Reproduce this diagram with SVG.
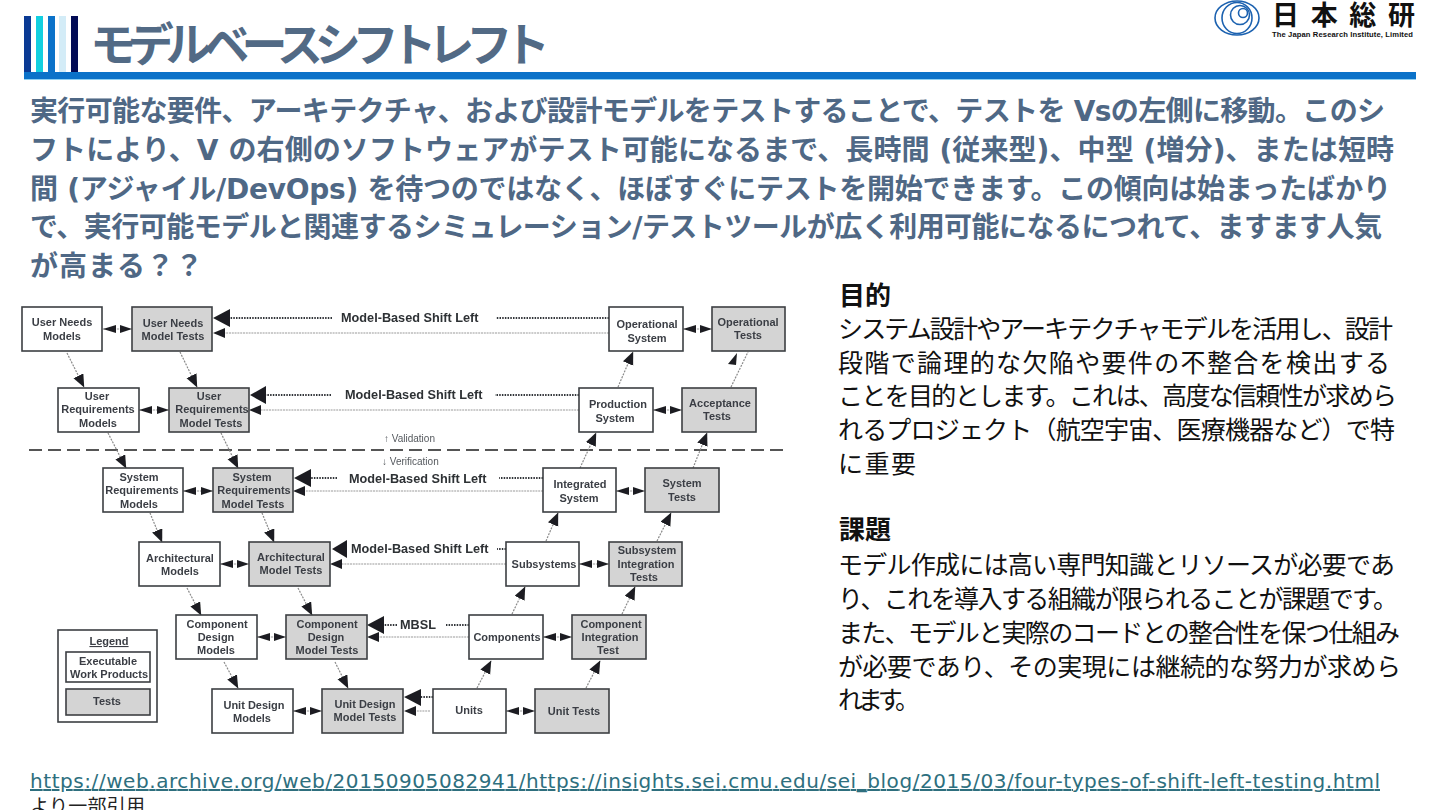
<svg xmlns="http://www.w3.org/2000/svg" width="1440" height="810" viewBox="0 0 1440 810">
<style>
text{font-family:"Liberation Sans",Arial,sans-serif}
.jp{font-family:"Noto Sans CJK JP","Noto Sans",sans-serif}
.title{font-size:46px;font-weight:700;fill:#526a85}
.lead{font-family:"DejaVu Sans","Noto Sans CJK JP",sans-serif;font-size:28px;font-weight:700;fill:#4f6885}
.body{font-size:25px;fill:#111}
.head{font-size:26px;font-weight:700;fill:#111}
.m rect{fill:#fff;stroke:#3c3f42;stroke-width:1.6}
.t rect{fill:#d4d4d4;stroke:#3c3f42;stroke-width:1.6}
.n{font-size:11px;font-weight:700;fill:#3a3e44;text-anchor:middle}
.lbl{font-size:12.7px;font-weight:700;fill:#2d3034}
.small{font-size:10px;fill:#55595e}
.dash{fill:none;stroke:#555;stroke-width:2;stroke-dasharray:13 6}
.d{fill:none;stroke:#8a8a8a;stroke-width:1.2;stroke-dasharray:2 1.2}
.u{fill:none;stroke:#33363a;stroke-width:1.8;stroke-dasharray:1.5 1.2}
.l{fill:none;stroke:#9a9a9a;stroke-width:1.1;stroke-dasharray:2 .8}
.h{fill:#1d1f21}
</style>
<defs>
<marker id="a" markerUnits="userSpaceOnUse" markerWidth="14" markerHeight="12" refX="12.5" refY="5.5" orient="auto"><path d="M0 0L13 5.5L0 11Z" fill="#1d1f21"/></marker>
<filter id="soft" filterUnits="userSpaceOnUse" x="0" y="280" width="820" height="480"><feGaussianBlur stdDeviation="0.35"/></filter>
</defs>

<g id="header">
<rect x="24" y="16" width="7" height="56" fill="#0a3a94"/>
<rect x="36" y="16" width="7" height="56" fill="#12d0e0"/>
<rect x="48" y="16" width="7" height="56" fill="#0b72c9"/>
<rect x="59" y="16" width="7" height="56" fill="#d3ecf7"/>
<rect x="71" y="16" width="7" height="56" fill="#020b55"/>
<rect x="24" y="72" width="1392" height="7" fill="#0b72c9"/>
<rect x="24" y="79" width="1392" height="1" fill="#8fd0f2"/>
<text class="jp title" x="90" y="61" textLength="460">モデルベースシフトレフト</text>
</g>

<g id="logo" fill="none" stroke="#1c62b0" stroke-width="1.6">
<ellipse cx="1237" cy="18" rx="22" ry="17"/>
<ellipse cx="1237" cy="18" rx="15" ry="15.5"/>
<circle cx="1240" cy="15" r="9.5"/>
<circle cx="1243" cy="13" r="4.5"/>
<text class="jp" x="1272" y="25" font-size="27" font-weight="700" fill="#111" stroke="none" textLength="143">日本総研</text>
<text x="1272" y="37" font-size="7.6" font-weight="700" fill="#111" stroke="none" textLength="141">The Japan Research Institute, Limited</text>
</g>

<g id="lead">
<text class="lead" x="30" y="121" textLength="1355">実行可能な要件、アーキテクチャ、および設計モデルをテストすることで、テストを Vsの左側に移動。このシ</text>
<text class="lead" x="30" y="160" textLength="1364">フトにより、V の右側のソフトウェアがテスト可能になるまで、長時間 (従来型)、中型 (増分)、または短時</text>
<text class="lead" x="30" y="199" textLength="1361">間 (アジャイル/DevOps) を待つのではなく、ほぼすぐにテストを開始できます。この傾向は始まったばかり</text>
<text class="lead" x="30" y="237" textLength="1352">で、実行可能モデルと関連するシミュレーション/テストツールが広く利用可能になるにつれて、ますます人気</text>
<text class="lead" x="30" y="276" textLength="173">が高まる？？</text>
</g>

<g id="notes">
<text class="jp head" x="839" y="305">目的</text>
<text class="jp body" x="838" y="338" textLength="555">システム設計やアーキテクチャモデルを活用し、設計</text>
<text class="jp body" x="838" y="372" textLength="552">段階で論理的な欠陥や要件の不整合を検出する</text>
<text class="jp body" x="838" y="405" textLength="559">ことを目的とします。これは、高度な信頼性が求めら</text>
<text class="jp body" x="838" y="439" textLength="557">れるプロジェクト（航空宇宙、医療機器など）で特</text>
<text class="jp body" x="838" y="473" textLength="78">に重要</text>
<text class="jp head" x="839" y="539">課題</text>
<text class="jp body" x="838" y="574" textLength="557">モデル作成には高い専門知識とリソースが必要であ</text>
<text class="jp body" x="838" y="608" textLength="560">り、これを導入する組織が限られることが課題です。</text>
<text class="jp body" x="838" y="642" textLength="562">また、モデルと実際のコードとの整合性を保つ仕組み</text>
<text class="jp body" x="838" y="676" textLength="563">が必要であり、その実現には継続的な努力が求めら</text>
<text class="jp body" x="838" y="709" textLength="82">れます。</text>
</g>

<g id="diagram" filter="url(#soft)">
<g id="connectors">
<path class="dash" d="M29 450H786"/>
<g marker-end="url(#a)">
<path class="d" d="M67 353L84 387"/><path class="d" d="M180 352L197 387"/>
<path class="d" d="M108 433L126 468"/><path class="d" d="M221 433L238 468"/>
<path class="d" d="M150 513L162 542"/><path class="d" d="M262 513L274 542"/>
<path class="d" d="M187 588L201 615"/><path class="d" d="M298 588L312 615"/>
<path class="d" d="M224 662L238 688"/><path class="d" d="M335 662L348 688"/>
<path class="d" d="M618 387L633 352"/>
<path class="d" d="M580 468L596 433"/><path class="d" d="M693 468L707 433"/>
<path class="d" d="M546 541L558 513"/><path class="d" d="M657 541L671 513"/>
<path class="d" d="M512 614L525 587"/><path class="d" d="M622 614L635 587"/>
<path class="d" d="M477 688L491 661"/><path class="d" d="M586 688L600 661"/>
</g>
<path class="d" d="M731 387L748 352"/>
<path class="h" d="M737 353L728 364L736 365Z"/>

<path class="l" d="M103 329H132M139 410H169M183 491H213M220 564H249M257 637H286M293 711H322M683 329H712M653 410H682M616 491H645M579 564H609M543 637H572M506 711H535"/>
<path class="h" d="M103 329L116 325V333ZM132 329L120 325V333ZM139 410L152 406V414ZM169 410L157 406V414ZM183 491L196 487V495ZM213 491L201 487V495ZM220 564L233 560V568ZM249 564L237 560V568ZM257 637L270 633V641ZM286 637L274 633V641ZM293 711L306 707V715ZM322 711L310 707V715ZM683 329L696 325V333ZM712 329L700 325V333ZM653 410L666 406V414ZM682 410L670 406V414ZM616 491L629 487V495ZM645 491L633 487V495ZM579 564L592 560V568ZM609 564L597 560V568ZM543 637L556 633V641ZM572 637L560 633V641ZM506 711L519 707V715ZM535 711L523 707V715Z"/>

<path class="u" d="M609 318H496M332 318H228M579 395H495M331 395H264M543 478H499M337 478H308M506 549H497M469 625H446M397 625H381M433 697H416"/>
<path class="h" d="M213 318L230 309V327ZM250 395L266 386V404ZM294 478L311 469V487ZM332 549L347 540V558ZM367 625L384 616V634ZM404 697L421 689V706Z"/>
<path class="l" d="M609 333H222M579 410H258M543 491H303M506 564H340M469 637H376M430 711H412"/>
<path class="h" d="M213 333L225 328V338ZM249 410L261 405V415ZM293 491L305 486V496ZM330 564L342 559V569ZM367 637L379 632V642ZM404 711L416 706V716Z"/>
</g>

<g id="shift-labels">
<text class="lbl" x="341" y="322">Model-Based Shift Left</text>
<text class="lbl" x="345" y="399">Model-Based Shift Left</text>
<text class="lbl" x="349" y="483">Model-Based Shift Left</text>
<text class="lbl" x="351" y="553">Model-Based Shift Left</text>
<text class="lbl" x="400" y="629">MBSL</text>
<text class="small" x="384" y="442">↑ Validation</text>
<text class="small" x="382" y="465">↓ Verification</text>
</g>

<g id="user-needs-models" class="m"><rect x="22" y="307" width="80" height="44"/><text class="n" x="62" y="326">User Needs</text><text class="n" x="62" y="340">Models</text></g>
<g id="user-needs-tests" class="t"><rect x="132" y="307" width="80" height="44"/><text class="n" x="173" y="327">User Needs</text><text class="n" x="173" y="340">Model Tests</text></g>
<g id="operational-system" class="m"><rect x="609" y="307" width="74" height="44"/><text class="n" x="647" y="328">Operational</text><text class="n" x="647" y="342">System</text></g>
<g id="operational-tests" class="t"><rect x="712" y="307" width="73" height="44"/><text class="n" x="748" y="326">Operational</text><text class="n" x="748" y="339">Tests</text></g>

<g id="user-req-models" class="m"><rect x="58" y="388" width="81" height="44"/><text class="n" x="97" y="400">User</text><text class="n" x="98" y="413">Requirements</text><text class="n" x="98" y="427">Models</text></g>
<g id="user-req-tests" class="t"><rect x="169" y="388" width="80" height="44"/><text class="n" x="209" y="400">User</text><text class="n" x="212" y="413">Requirements</text><text class="n" x="211" y="427">Model Tests</text></g>
<g id="production-system" class="m"><rect x="579" y="388" width="74" height="44"/><text class="n" x="618" y="408">Production</text><text class="n" x="615" y="422">System</text></g>
<g id="acceptance-tests" class="t"><rect x="682" y="388" width="74" height="44"/><text class="n" x="720" y="407">Acceptance</text><text class="n" x="717" y="420">Tests</text></g>

<g id="system-req-models" class="m"><rect x="103" y="468" width="80" height="44"/><text class="n" x="139" y="481">System</text><text class="n" x="142" y="494">Requirements</text><text class="n" x="139" y="508">Models</text></g>
<g id="system-req-tests" class="t"><rect x="213" y="468" width="80" height="44"/><text class="n" x="252" y="481">System</text><text class="n" x="254" y="494">Requirements</text><text class="n" x="253" y="508">Model Tests</text></g>
<g id="integrated-system" class="m"><rect x="543" y="468" width="73" height="44"/><text class="n" x="580" y="488">Integrated</text><text class="n" x="579" y="502">System</text></g>
<g id="system-tests" class="t"><rect x="645" y="468" width="74" height="44"/><text class="n" x="682" y="487">System</text><text class="n" x="682" y="501">Tests</text></g>

<g id="arch-models" class="m"><rect x="139" y="542" width="81" height="44"/><text class="n" x="180" y="562">Architectural</text><text class="n" x="180" y="575">Models</text></g>
<g id="arch-tests" class="t"><rect x="249" y="542" width="81" height="44"/><text class="n" x="291" y="561">Architectural</text><text class="n" x="291" y="574">Model Tests</text></g>
<g id="subsystems" class="m"><rect x="506" y="542" width="73" height="44"/><text class="n" x="544" y="568">Subsystems</text></g>
<g id="subsystem-tests" class="t"><rect x="609" y="542" width="73" height="44"/><text class="n" x="647" y="554">Subsystem</text><text class="n" x="646" y="568">Integration</text><text class="n" x="644" y="581">Tests</text></g>

<g id="comp-design-models" class="m"><rect x="176" y="615" width="81" height="44"/><text class="n" x="217" y="628">Component</text><text class="n" x="216" y="641">Design</text><text class="n" x="216" y="654">Models</text></g>
<g id="comp-design-tests" class="t"><rect x="286" y="615" width="81" height="44"/><text class="n" x="327" y="628">Component</text><text class="n" x="326" y="641">Design</text><text class="n" x="327" y="654">Model Tests</text></g>
<g id="components" class="m"><rect x="469" y="615" width="74" height="44"/><text class="n" x="507" y="641">Components</text></g>
<g id="comp-integration" class="t"><rect x="572" y="615" width="74" height="44"/><text class="n" x="611" y="628">Component</text><text class="n" x="610" y="641">Integration</text><text class="n" x="608" y="654">Test</text></g>

<g id="unit-design-models" class="m"><rect x="212" y="689" width="81" height="44"/><text class="n" x="254" y="709">Unit Design</text><text class="n" x="252" y="722">Models</text></g>
<g id="unit-design-tests" class="t"><rect x="322" y="689" width="81" height="44"/><text class="n" x="365" y="708">Unit Design</text><text class="n" x="365" y="721">Model Tests</text></g>
<g id="units" class="m"><rect x="433" y="689" width="73" height="44"/><text class="n" x="469" y="714">Units</text></g>
<g id="unit-tests" class="t"><rect x="535" y="689" width="74" height="44"/><text class="n" x="574" y="715">Unit Tests</text></g>

<g id="legend">
<rect x="58" y="630" width="99" height="92" fill="#fff" stroke="#3c3f42" stroke-width="1.6"/>
<text class="n" x="109" y="645" text-decoration="underline">Legend</text>
<g class="m"><rect x="66" y="652" width="84" height="30"/><text class="n" x="108" y="665">Executable</text><text class="n" x="109" y="678">Work Products</text></g>
<g class="t"><rect x="66" y="689" width="84" height="26"/><text class="n" x="107" y="705">Tests</text></g>
</g>
</g>

<g id="source">
<text x="30" y="788" style="font-family:'DejaVu Sans',sans-serif" font-size="20" fill="#2e6f7e" text-decoration="underline" textLength="1350">https://web.archive.org/web/20150905082941/https://insights.sei.cmu.edu/sei_blog/2015/03/four-types-of-shift-left-testing.html</text>
<text class="jp" x="30" y="813" font-size="19" fill="#222" textLength="115">より一部引用</text>
</g>
</svg>
